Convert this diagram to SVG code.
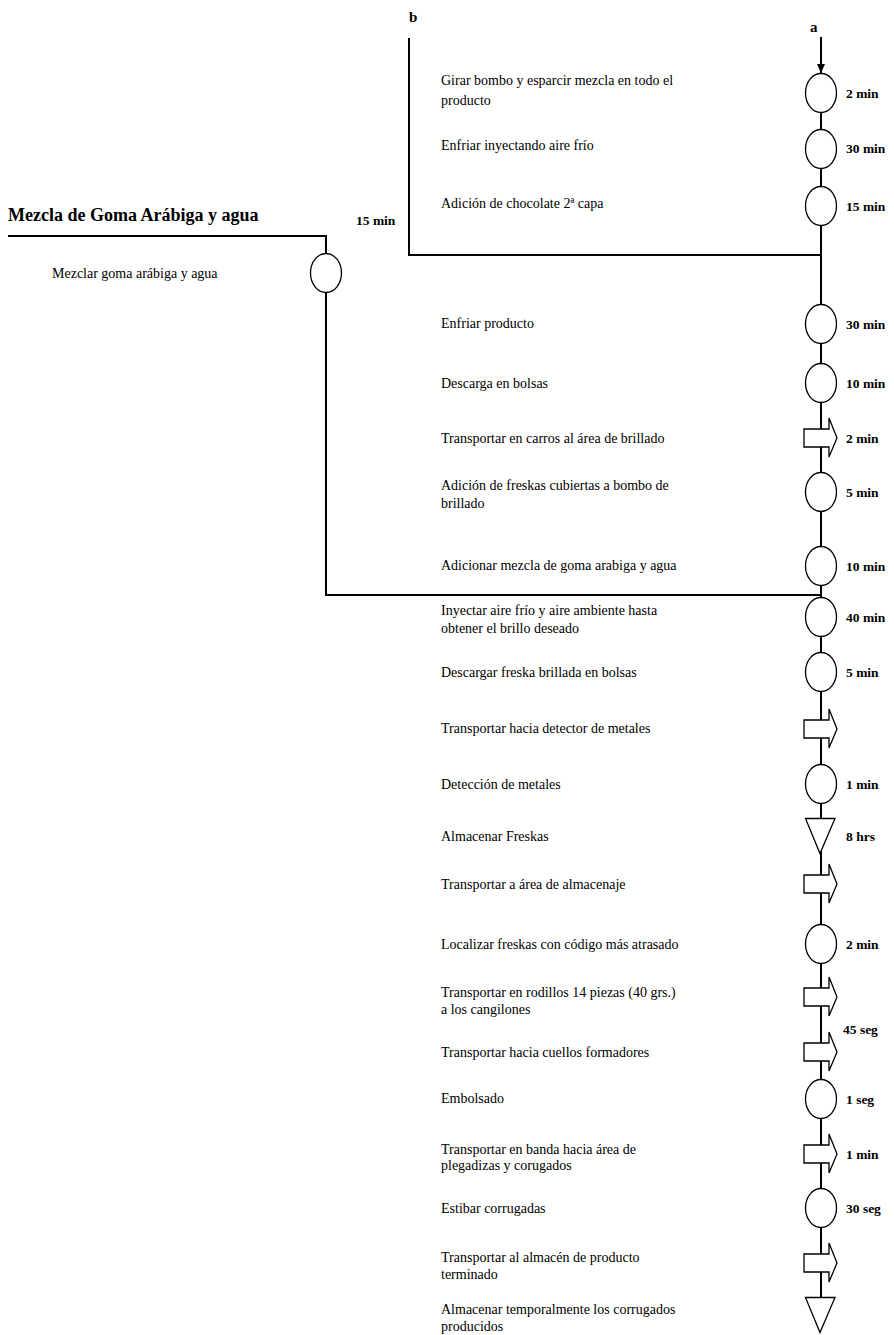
<svg xmlns="http://www.w3.org/2000/svg" xmlns:xlink="http://www.w3.org/1999/xlink" width="894" height="1335" viewBox="0 0 894 1335">
<style>
.t{font-family:"Liberation Serif","Times New Roman",serif;font-size:14px;fill:#000}
.tm{font-family:"Liberation Serif","Times New Roman",serif;font-size:13.5px;font-weight:bold;fill:#000}
.ttl{font-family:"Liberation Serif","Times New Roman",serif;font-size:18px;font-weight:bold;fill:#000}
.lbl{font-family:"Liberation Serif","Times New Roman",serif;font-size:15px;font-weight:bold;fill:#000}
.ln{stroke:#000;stroke-width:2;fill:none}
.sym{stroke:#000;stroke-width:1.3;fill:#fff}
</style>
<defs>
<ellipse id="op" cx="0" cy="0" rx="15.5" ry="19.5" class="sym"/>
<path id="tr" d="M-17,-9 H8 V-20 L16,0 L8,19 V9 H-17 Z" class="sym"/>
<path id="st" d="M-15.5,-17.5 H14 L-1,17.5 Z" class="sym"/>
<marker id="ah" markerWidth="10" markerHeight="10" refX="9" refY="5" orient="auto" markerUnits="userSpaceOnUse">
<path d="M0,1 L9,5 L0,9 Z" fill="#000"/>
</marker>
</defs>
<g id="connectors">
<line class="ln" x1="821" y1="37" x2="821" y2="73" marker-end="url(#ah)"/>
<line class="ln" x1="821" y1="75" x2="821" y2="1297"/>
<polyline class="ln" points="409,38 409,255 821,255"/>
<polyline class="ln" points="8,236 326,236 326,595 821,595"/>
</g>
<g id="labels">
<text class="lbl" x="409" y="22">b</text>
<text class="lbl" x="810" y="32">a</text>
<text class="ttl" x="8" y="221">Mezcla de Goma Arábiga y agua</text>
<text class="tm" x="356" y="225">15 min</text>
</g>
<g id="n-left"><use xlink:href="#op" x="326" y="273"/><text class="t" x="52" y="278">Mezclar goma arábiga y agua</text></g>
<g id="n1"><use xlink:href="#op" x="821" y="93"/><text class="t" x="441" y="85">Girar bombo y esparcir mezcla en todo el</text><text class="t" x="441" y="105">producto</text><text class="tm" x="846" y="98">2 min</text></g>
<g id="n2"><use xlink:href="#op" x="821" y="149"/><text class="t" x="441" y="150">Enfriar inyectando aire frío</text><text class="tm" x="846" y="153">30 min</text></g>
<g id="n3"><use xlink:href="#op" x="821" y="206"/><text class="t" x="441" y="208">Adición de chocolate 2ª capa</text><text class="tm" x="846" y="211">15 min</text></g>
<g id="n4"><use xlink:href="#op" x="821" y="324"/><text class="t" x="441" y="328">Enfriar producto</text><text class="tm" x="846" y="329">30 min</text></g>
<g id="n5"><use xlink:href="#op" x="821" y="383"/><text class="t" x="441" y="388">Descarga en bolsas</text><text class="tm" x="846" y="388">10 min</text></g>
<g id="n6"><use xlink:href="#tr" x="821" y="438"/><text class="t" x="441" y="443">Transportar en carros al área de brillado</text><text class="tm" x="846" y="443">2 min</text></g>
<g id="n7"><use xlink:href="#op" x="821" y="492"/><text class="t" x="441" y="490">Adición de freskas cubiertas a bombo de</text><text class="t" x="441" y="508">brillado</text><text class="tm" x="846" y="497">5 min</text></g>
<g id="n8"><use xlink:href="#op" x="821" y="566"/><text class="t" x="441" y="570">Adicionar mezcla de goma arabiga y agua</text><text class="tm" x="846" y="571">10 min</text></g>
<g id="n9"><use xlink:href="#op" x="821" y="617"/><text class="t" x="441" y="615">Inyectar aire frío y aire ambiente hasta</text><text class="t" x="441" y="633">obtener el brillo deseado</text><text class="tm" x="846" y="622">40 min</text></g>
<g id="n10"><use xlink:href="#op" x="821" y="672"/><text class="t" x="441" y="677">Descargar freska brillada en bolsas</text><text class="tm" x="846" y="677">5 min</text></g>
<g id="n11"><use xlink:href="#tr" x="821" y="729"/><text class="t" x="441" y="733">Transportar hacia detector de metales</text></g>
<g id="n12"><use xlink:href="#op" x="821" y="784"/><text class="t" x="441" y="789">Detección de metales</text><text class="tm" x="846" y="789">1 min</text></g>
<g id="n13"><use xlink:href="#st" x="821" y="836"/><text class="t" x="441" y="841">Almacenar Freskas</text><text class="tm" x="846" y="841">8 hrs</text></g>
<g id="n14"><use xlink:href="#tr" x="821" y="884"/><text class="t" x="441" y="889">Transportar a área de almacenaje</text></g>
<g id="n15"><use xlink:href="#op" x="821" y="944"/><text class="t" x="441" y="949">Localizar freskas con código más atrasado</text><text class="tm" x="846" y="949">2 min</text></g>
<g id="n16"><use xlink:href="#tr" x="821" y="997"/><text class="t" x="441" y="997">Transportar en rodillos 14 piezas (40 grs.)</text><text class="t" x="441" y="1014">a los cangilones</text><text class="tm" x="843" y="1034">45 seg</text></g>
<g id="n17"><use xlink:href="#tr" x="821" y="1052"/><text class="t" x="441" y="1057">Transportar hacia cuellos formadores</text></g>
<g id="n18"><use xlink:href="#op" x="821" y="1099"/><text class="t" x="441" y="1103">Embolsado</text><text class="tm" x="846" y="1104">1 seg</text></g>
<g id="n19"><use xlink:href="#tr" x="821" y="1154"/><text class="t" x="441" y="1154">Transportar en banda hacia área de</text><text class="t" x="441" y="1170">plegadizas y corugados</text><text class="tm" x="846" y="1159">1 min</text></g>
<g id="n20"><use xlink:href="#op" x="821" y="1208"/><text class="t" x="441" y="1213">Estibar corrugadas</text><text class="tm" x="846" y="1213">30 seg</text></g>
<g id="n21"><use xlink:href="#tr" x="821" y="1263"/><text class="t" x="441" y="1262">Transportar al almacén de producto</text><text class="t" x="441" y="1279">terminado</text></g>
<g id="n22"><use xlink:href="#st" x="821" y="1315"/><text class="t" x="441" y="1314">Almacenar temporalmente los corrugados</text><text class="t" x="441" y="1331">producidos</text></g>
</svg>
